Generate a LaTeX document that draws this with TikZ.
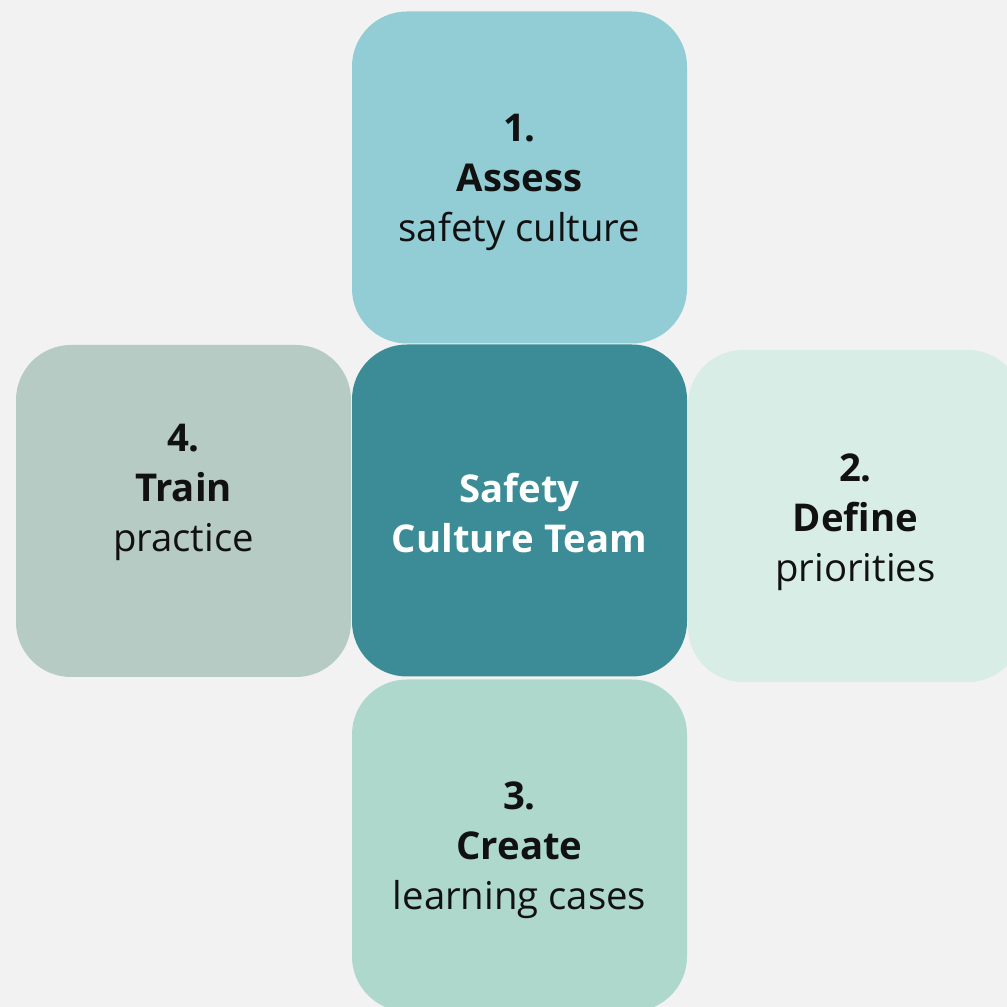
\documentclass[tikz,border=0pt]{standalone}
\usepackage{fontspec}
\setmainfont{Open Sans}
\definecolor{bgGray}{HTML}{F2F2F2}
\definecolor{tileTop}{HTML}{92CDD5}
\definecolor{tileMid}{HTML}{3B8C96}
\definecolor{tileRight}{HTML}{D9EDE7}
\definecolor{tileBottom}{HTML}{AED8CC}
\definecolor{tileLeft}{HTML}{B5CBC3}
\definecolor{inkDark}{HTML}{111111}
\tikzset{
  tile/.style={rectangle, rounded corners=1.1cm, minimum width=6.7cm, minimum height=6.64cm,
    align=center, inner sep=0pt, text=inkDark, font=\fontsize{21.8pt}{28.45pt}\selectfont},
  tileText/.style={align=center, inner sep=0pt, text=inkDark, font=\fontsize{21.8pt}{28.45pt}\selectfont}
}
\begin{document}
\begin{tikzpicture}
\useasboundingbox (0,0) rectangle (20.14,20.14);
\clip (0,0) rectangle (20.14,20.14);
\fill[bgGray] (0,0) rectangle (20.14,20.14);

\node[tile, fill=tileTop] (assess) at (10.39, 16.59) {};
\node[tile, fill=tileRight] (define) at (17.11, 9.82) {};
\node[tile, fill=tileBottom] (create) at (10.39, 3.23) {};
\node[tile, fill=tileLeft] (train) at (3.67, 9.92) {};
\node[tile, fill=tileMid] (team) at (10.39, 9.93) {};

\node[tileText] (assessText) at ([yshift=-0.1cm]assess.center) {\textbf{1.}\\\textbf{Assess}\\safety culture};
\node[tileText] (defineText) at ([yshift=-0.12cm]define.center) {\textbf{2.}\\\textbf{Define}\\priorities};
\node[tileText] (createText) at ([yshift=-0.1cm]create.center) {\textbf{3.}\\\textbf{Create}\\learning cases};
\node[tileText] (trainText) at ([yshift=0.38cm]train.center) {\textbf{4.}\\\textbf{Train}\\practice};
\node[tileText, text=white] (teamText) at ([yshift=-0.05cm]team.center) {\textbf{Safety}\\\textbf{Culture Team}};

\end{tikzpicture}
\end{document}
